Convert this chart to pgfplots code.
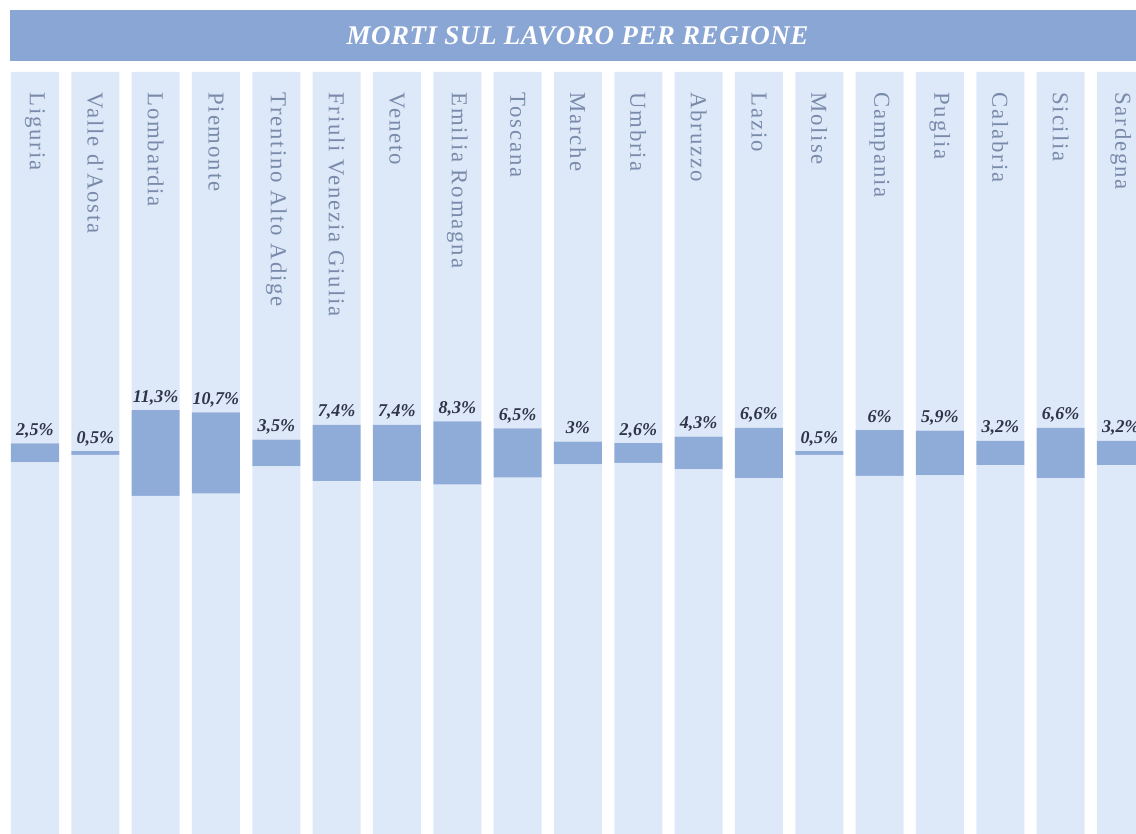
\documentclass[border=0pt]{standalone}
\usepackage{fontspec}
\setmainfont{Liberation Serif}
\newfontfamily\namefont[LetterSpace=8]{Liberation Serif}
\newfontfamily\titlefont[LetterSpace=2]{Liberation Serif}
\usepackage{pgfplots}
\usepackage{pgfplotstable}
\pgfplotsset{compat=1.18}
\definecolor{lightcol}{RGB}{221,233,248}
\definecolor{darkcol}{RGB}{143,171,215}
\definecolor{bannercol}{RGB}{138,166,212}
\definecolor{namecol}{RGB}{122,138,170}
\definecolor{numcol}{RGB}{48,52,72}
\pgfplotstableread{
v lab
2.5 2,5
0.5 0,5
11.3 11,3
10.7 10,7
3.5 3,5
7.4 7,4
7.4 7,4
8.3 8,3
6.5 6,5
3 3
2.6 2,6
4.3 4,3
6.6 6,6
0.5 0,5
6 6
5.9 5,9
3.2 3,2
6.6 6,6
3.2 3,2
}\datatable
\pgfplotsset{base/.style={
  at={(0,0)}, anchor=south west,
  scale only axis, width=568pt, height=417pt,
  xmin=-0.580, xmax=18.25, ymin=0, ymax=834,
  axis line style={draw=none}, major tick length=0pt, ytick=\empty}}
\begin{document}
\begin{tikzpicture}
\useasboundingbox (0,0) rectangle (568pt,417pt);
\clip (0,0) rectangle (568pt,417pt);
\begin{axis}[base,
  ybar stacked, bar width=0.796,
  xtick=\empty,
  clip=true,
]
\addplot[fill=lightcol, draw=none] table[x expr=\coordindex, y expr=381-3.8*\thisrow{v}] {\datatable};
\addplot[fill=darkcol, draw=none] table[x expr=\coordindex, y expr=7.6*\thisrow{v}] {\datatable};
\addplot[fill=lightcol, draw=none] table[x expr=\coordindex, y expr=381-3.8*\thisrow{v}] {\datatable};
\end{axis}
\begin{axis}[base,
  xtick={0,...,18},
  xticklabel pos=upper,
  xticklabel shift=-46pt,
  xticklabels={Liguria, Valle d'Aosta, Lombardia, Piemonte, Trentino Alto Adige, Friuli Venezia Giulia, Veneto, Emilia Romagna, Toscana, Marche, Umbria, Abruzzo, Lazio, Molise, Campania, Puglia, Calabria, Sicilia, Sardegna},
  xticklabel style={rotate=-90, anchor=west, inner sep=0pt, text=namecol, font=\namefont\fontsize{11.4}{13}\selectfont},
]
\addplot[draw=none, mark=none, point meta=explicit symbolic,
  nodes near coords={\pgfplotspointmeta\%},
  nodes near coords style={anchor=base, yshift=4pt, inner sep=0pt, text=numcol, font=\bfseries\itshape\fontsize{9}{10}\selectfont}]
  table[x expr=\coordindex, y expr=381+3.8*\thisrow{v}, meta=lab] {\datatable};
\end{axis}
\fill[bannercol] (5pt,386.5pt) rectangle (570pt,412pt);
\node[anchor=base, text=white, inner sep=0pt, font=\titlefont\bfseries\itshape\fontsize{13.5}{16}\selectfont] at (288.75pt,394.5pt) {MORTI SUL LAVORO PER REGIONE};
\end{tikzpicture}
\end{document}
